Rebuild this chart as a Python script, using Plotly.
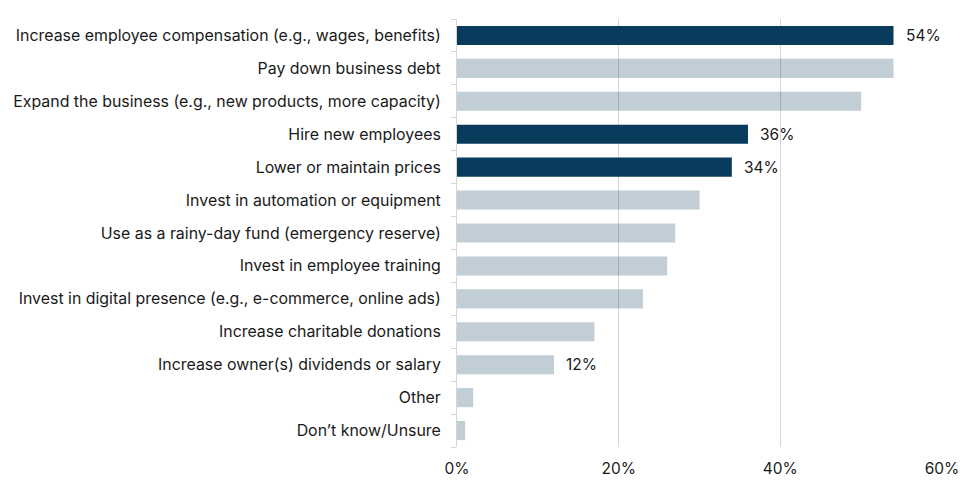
import plotly.graph_objects as go

categories = [
    "Increase employee compensation (e.g., wages, benefits)",
    "Pay down business debt",
    "Expand the business (e.g., new products, more capacity)",
    "Hire new employees",
    "Lower or maintain prices",
    "Invest in automation or equipment",
    "Use as a rainy-day fund (emergency reserve)",
    "Invest in employee training",
    "Invest in digital presence (e.g., e-commerce, online ads)",
    "Increase charitable donations",
    "Increase owner(s) dividends or salary",
    "Other",
    "Don\u2019t know/Unsure",
]
values = [54, 54, 50, 36, 34, 30, 27, 26, 23, 17, 12, 2, 1]
highlight = [True, False, False, True, True, False, False, False, False, False, False, False, False]
value_labels = ["54%", "", "", "36%", "34%", "", "", "", "", "", "12%", "", ""]
x_ticks = [0, 20, 40, 60]
x_tick_labels = ["0%", "20%", "40%", "60%"]

DARK = "rgb(9,60,92)"
LIGHT = "rgba(9,60,92,0.25)"
FONT = "Inter"
FS = 15.9

colors = [DARK if h else LIGHT for h in highlight]

fig = go.Figure(go.Bar(
    x=values,
    y=categories,
    orientation="h",
    marker=dict(color=colors, line=dict(width=0)),
    hoverinfo="skip",
))

for cat, v, lab in zip(categories, values, value_labels):
    if lab:
        fig.add_annotation(x=v, y=cat, text=lab, showarrow=False,
                           xanchor="left", xshift=10,
                           font=dict(family=FONT, size=15.5, color="#1a1a1a"))

fig.update_layout(
    width=972, height=484,
    margin=dict(l=449, r=38, t=11, b=45, autoexpand=False),
    plot_bgcolor="white", paper_bgcolor="white",
    bargap=0.42,
    showlegend=False,
    font=dict(family=FONT, size=FS, color="#1a1a1a"),
)
fig.update_xaxes(
    range=[0, 60], tickvals=x_ticks, ticktext=x_tick_labels,
    showgrid=True, gridcolor="#d6d6d6", gridwidth=1,
    zeroline=False, showline=False,
    ticks="outside", ticklen=7, tickcolor="rgba(0,0,0,0)",
    tickfont=dict(family=FONT, size=15.5, color="#1a1a1a"),
    automargin=False,
    fixedrange=True,
)
fig.update_yaxes(
    categoryorder="array", categoryarray=categories[::-1],
    showline=True, linecolor="#d6d6d6", linewidth=1,
    ticks="outside", tickson="boundaries", ticklen=5, tickcolor="#d6d6d6",
    showgrid=False,
    tickfont=dict(family=FONT, size=FS, color="#1a1a1a"),
    ticklabelstandoff=12,
    automargin=False,
    fixedrange=True,
)

fig.write_html("out.html", config={"displayModeBar": False})
